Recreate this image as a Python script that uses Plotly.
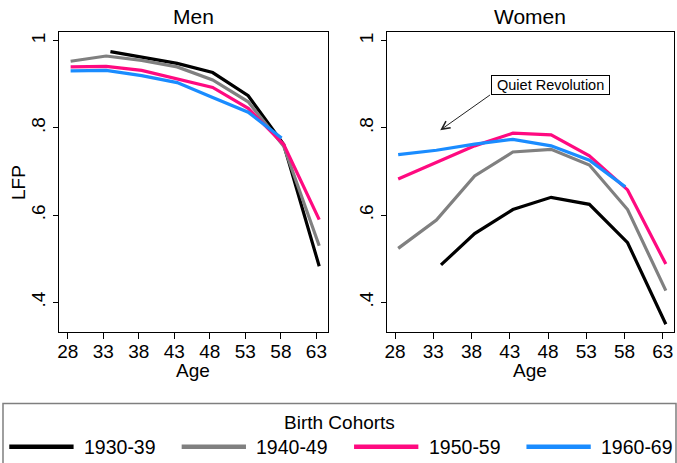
import plotly.graph_objects as go

# ---------------- data ----------------
cohorts = ["1930-39", "1940-49", "1950-59", "1960-69"]
colors = ["#000000", "#808080", "#ff0a80", "#1a8cff"]

ages_1930 = [34.0, 38.4, 43.4, 48.4, 53.4, 58.4, 63.4]
ages_1940 = [28.4, 33.4, 38.4, 43.4, 48.4, 53.4, 58.4, 63.4]
ages_1950 = [28.4, 33.4, 38.4, 43.4, 48.4, 53.4, 58.4, 63.4]
ages_1960 = [28.4, 33.4, 38.4, 43.4, 48.4, 53.4, 58.1]

men_1930 = [0.975, 0.962, 0.948, 0.927, 0.874, 0.762, 0.483]
men_1940 = [0.953, 0.965, 0.955, 0.940, 0.910, 0.860, 0.758, 0.530]
men_1950 = [0.940, 0.941, 0.932, 0.912, 0.893, 0.845, 0.762, 0.590]
men_1960 = [0.931, 0.932, 0.920, 0.904, 0.870, 0.836, 0.777]

women_1930 = [0.486, 0.558, 0.613, 0.641, 0.625, 0.537, 0.350]
women_1940 = [0.524, 0.589, 0.690, 0.745, 0.751, 0.715, 0.613, 0.427]
women_1950 = [0.683, 0.722, 0.759, 0.788, 0.784, 0.736, 0.658, 0.488]
women_1960 = [0.739, 0.749, 0.763, 0.774, 0.759, 0.726, 0.665]

x_ticks = [28, 33, 38, 43, 48, 53, 58, 63]
y_ticks = [0.4, 0.6, 0.8, 1.0]
y_ticklabels = [".4", ".6", ".8", "1"]

ages = [ages_1930, ages_1940, ages_1950, ages_1960]
men = [men_1930, men_1940, men_1950, men_1960]
women = [women_1930, women_1940, women_1950, women_1960]

W, H = 677, 463
FONT = "Liberation Sans, Arial, Helvetica, sans-serif"

fig = go.Figure()
for i in range(4):
    fig.add_trace(go.Scatter(x=ages[i], y=men[i], mode="lines", name=cohorts[i],
                             line=dict(color=colors[i], width=3.2), showlegend=False,
                             xaxis="x", yaxis="y"))
for i in range(4):
    fig.add_trace(go.Scatter(x=ages[i], y=women[i], mode="lines", name=cohorts[i],
                             line=dict(color=colors[i], width=3.2), showlegend=False,
                             xaxis="x2", yaxis="y2"))

def px_x(p):
    return p / W

def px_y(p):
    return 1 - p / H

ydom = [px_y(331.7), px_y(32)]

common_x = dict(tickvals=x_ticks, ticks="outside", ticklen=6, tickwidth=1, tickcolor="black",
                showline=True, mirror=True, linecolor="black", linewidth=1,
                showgrid=False, zeroline=False, tickfont=dict(size=19, color="black"),
                ticklabelstandoff=-4)
common_y = dict(range=[0.333, 1.02], tickvals=y_ticks, ticktext=y_ticklabels, tickangle=-90,
                ticks="outside", ticklen=5, tickwidth=1, tickcolor="black",
                showline=True, mirror=True, linecolor="black", linewidth=1,
                showgrid=False, zeroline=False, tickfont=dict(size=19, color="black"))

fig.update_layout(
    width=W, height=H,
    margin=dict(l=0, r=0, t=0, b=0),
    paper_bgcolor="white", plot_bgcolor="white",
    font=dict(family=FONT, color="black"),
    showlegend=False,
    xaxis=dict(domain=[px_x(57), px_x(327)], range=[26.74, 64.64], anchor="y", **common_x),
    yaxis=dict(domain=ydom, anchor="x", **common_y),
    xaxis2=dict(domain=[px_x(386), px_x(674)], range=[26.92, 64.47], anchor="y2", **common_x),
    yaxis2=dict(domain=ydom, anchor="x2", **common_y),
)

annotations = [
    dict(text="Men", x=px_x(192), y=px_y(17), xref="paper", yref="paper",
         showarrow=False, font=dict(size=21), xanchor="center", yanchor="middle"),
    dict(text="Women", x=px_x(530), y=px_y(17), xref="paper", yref="paper",
         showarrow=False, font=dict(size=21), xanchor="center", yanchor="middle"),
    dict(text="LFP", x=px_x(16), y=px_y(182), xref="paper", yref="paper", textangle=-90,
         showarrow=False, font=dict(size=19), xanchor="center", yanchor="middle"),
    dict(text="Age", x=px_x(192), y=px_y(370), xref="paper", yref="paper",
         showarrow=False, font=dict(size=19), xanchor="center", yanchor="middle"),
    dict(text="Age", x=px_x(530), y=px_y(370), xref="paper", yref="paper",
         showarrow=False, font=dict(size=19), xanchor="center", yanchor="middle"),
    # Quiet Revolution label
    dict(text="\u00a0Quiet Revolution\u00a0", x=48.3, y=0.898, xref="x2", yref="y2",
         showarrow=False, font=dict(size=14.5), bgcolor="white", bordercolor="black",
         borderwidth=1, borderpad=1, xanchor="center", yanchor="middle"),
    dict(text="", x=33.9, y=0.795, xref="x2", yref="y2",
         ax=40.6, ay=0.878, axref="x2", ayref="y2",
         showarrow=True, arrowhead=5, arrowsize=1.6, arrowwidth=1, arrowcolor="#222222",
         startstandoff=0),
    dict(text="Birth Cohorts", x=px_x(338.5), y=px_y(422), xref="paper", yref="paper",
         showarrow=False, font=dict(size=19), xanchor="center", yanchor="middle"),
]

shapes = [
    dict(type="rect", xref="paper", yref="paper", x0=px_x(1), x1=px_x(676),
         y0=-0.05, y1=px_y(403.5), line=dict(color="#7f7f7f", width=1.5), fillcolor="rgba(0,0,0,0)"),
]

leg_start = [7.3, 180.2, 353.1, 526.0]
for i in range(4):
    x0 = leg_start[i]
    shapes.append(dict(type="line", xref="paper", yref="paper",
                       x0=px_x(x0), x1=px_x(x0 + 64.5), y0=px_y(446.7), y1=px_y(446.7),
                       line=dict(color=colors[i], width=4.5)))
    annotations.append(dict(text=cohorts[i], x=px_x(x0 + 73), y=px_y(447), xref="paper",
                            yref="paper", showarrow=False, font=dict(size=19.5),
                            xanchor="left", yanchor="middle"))

fig.update_layout(annotations=annotations, shapes=shapes)
fig.write_html("out.html", config={"displayModeBar": False},
               post_script="document.body.style.margin='0';document.body.style.padding='0';"
                           "document.body.style.overflow='hidden';")
